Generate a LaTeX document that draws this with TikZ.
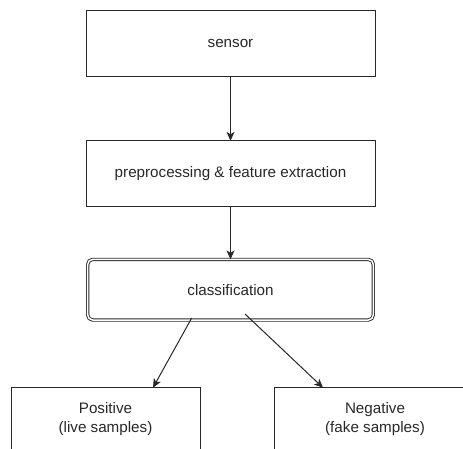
\documentclass[tikz,border=0pt]{standalone}
\usepackage{fontspec}
\setmainfont{Liberation Sans}
\usetikzlibrary{arrows.meta}
\definecolor{ink}{RGB}{40,40,40}
\tikzset{
  box/.style={draw=ink, line width=1pt, rectangle, outer sep=0pt, inner sep=0pt,
    text=ink, font=\fontsize{15.2}{19.5}\selectfont, align=center},
  dbox/.style={box, rounded corners=5pt, double=white, double distance=1.5pt, line width=0.9pt},
  arr/.style={draw=ink, line width=1pt, -{Stealth[length=9pt,width=8pt,inset=2.5pt]}}
}
\begin{document}
\begin{tikzpicture}[x=1pt,y=-1pt]
\useasboundingbox[fill=white] (0,0) rectangle (463,448);
\node[box, minimum width=289pt, minimum height=65.3pt] (sensor) at (230.5,43.4) {sensor};
\node[box, minimum width=289pt, minimum height=65.3pt] (prep) at (230.5,173.5) {preprocessing \& feature extraction};
\node[dbox, minimum width=285.6pt, minimum height=60.6pt] (class) at (230.5,289.7) {classification};
\node[box, minimum width=189pt, minimum height=63pt] (pos) at (105.5,419.2) {Positive\\(live samples)};
\node[box, minimum width=201pt, minimum height=63pt] (neg) at (375,419.2) {Negative\\(fake samples)};
\draw[arr] (sensor.south) -- (prep.north);
\draw[arr] (prep.south) -- (class.north);
\draw[arr] ([xshift=-38.8pt,yshift=2pt]class.south) -- ([xshift=47.5pt]pos.north);
\draw[arr] ([xshift=14.5pt,yshift=6pt]class.south) -- ([xshift=-52pt]neg.north);
\end{tikzpicture}
\end{document}
